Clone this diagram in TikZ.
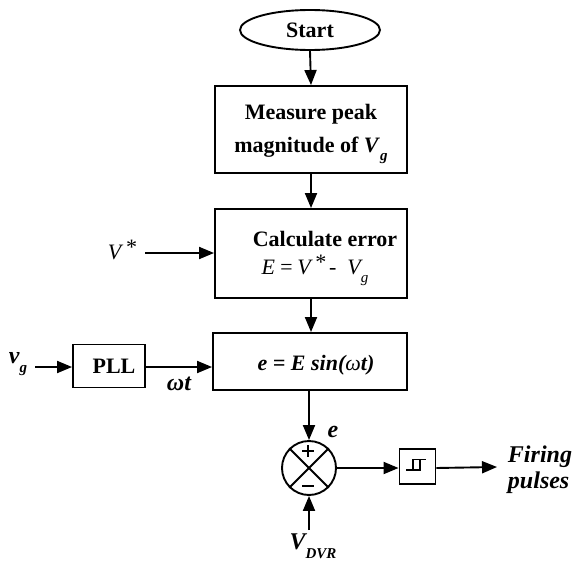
\documentclass[tikz,border=0pt]{standalone}
\usepackage{fontspec}
\setmainfont{Liberation Serif}
\usetikzlibrary{arrows.meta,shapes.geometric}
% subscript lowered below the baseline, in a smaller size
\newcommand\lowsub[1]{\raisebox{-0.38em}{\fontsize{15}{15}\selectfont #1}}
\begin{document}
\begin{tikzpicture}[x=1pt,y=-1pt,
  line width=1.9pt,
  flow/.style={-{Triangle[length=15pt,width=12pt]}},
  box/.style={draw, rectangle, inner sep=0pt},
  txt/.style={font=\fontsize{22}{33}\selectfont\bfseries, align=center, inner sep=0pt},
  mathtxt/.style={font=\fontsize{22}{26}\selectfont\itshape, inner sep=0pt},
  lbl/.style={font=\fontsize{24}{26}\selectfont\bfseries\itshape, align=left, inner sep=1pt}
]
\useasboundingbox (0,0) rectangle (576,562);

% start terminal
\node[ellipse, draw, minimum width=140pt, minimum height=40pt, inner sep=0pt,
      font=\fontsize{22}{26}\selectfont\bfseries] (start) at (310,30) {Start};

% measurement block
\node[box, minimum width=192pt, minimum height=87pt] (measure) at (311,129.5) {};
\node[txt] (measuretext) at (311,134) {Measure peak\\magnitude of \textit{V}\lowsub{\textit{g}}};

% error block
\node[box, minimum width=192pt, minimum height=89pt] (calc) at (311,253.5) {};
\node[txt, anchor=base] (calctext) at (325,246) {Calculate error};
\node[mathtxt, anchor=base] (calceq) at (315,274) {E\,=\,V\,\raisebox{0.2em}{*}\,-\ \ V\lowsub{g}};

% reference input
\node[mathtxt] (vref) at (122,250) {V\,\raisebox{0.2em}{*}};
\coordinate (vrefstart) at (145,253);

% reference waveform block
\node[box, minimum width=194pt, minimum height=57pt] (wave) at (310,361.5) {};
\node[font=\fontsize{22}{26}\selectfont\bfseries\itshape, inner sep=0pt] (wavetext) at (316,365) {e = E sin(\textmd{ω}t)};

% PLL
\node[box, minimum width=72pt, minimum height=43pt] (pll) at (109,366) {};
\node[txt] (plltext) at (114,366) {PLL};
\node[lbl] (vg) at (18,364) {v\lowsub{g}};
\coordinate (vgstart) at (35,367);
\node[lbl] (wt) at (179,384) {ωt};

% summing junction
\node[circle, draw, minimum size=54pt, inner sep=0pt] (sum) at (309,468) {};
\draw (sum.45) -- (sum.225);
\draw (sum.135) -- (sum.315);
\draw[line width=1.6pt] (302,451) -- (314,451) (308,445) -- (308,457);
\draw[line width=1.6pt] (302,486) -- (314,486);
\node[lbl] (elbl) at (333,432) {e};
\node[lbl, inner sep=0pt] (vdvr) at (313,546) {V\lowsub{DVR}};
\coordinate (vdvrstart) at (309,530);

% hysteresis comparator
\node[box, minimum width=36pt, minimum height=35pt] (hyst) at (417.5,466.5) {};
\draw[line width=1.4pt] (406,470) -- (420,470) -- (420,459.5) (413,470) -- (413,459.5) -- (426,459.5);
\coordinate (outend) at (497,467);
\node[lbl] (firing) at (540,470) {Firing\\pulses};

% connectors
\draw[flow] (start.south) -- (measure.north);
\draw[flow] (measure.south) -- (calc.north);
\draw[flow] (vrefstart) -- (calc.west |- vrefstart);
\draw[flow] (calc.south) -- (wave.north -| calc.south);
\draw[flow] (vgstart) -- (pll.west |- vgstart);
\draw[flow] (pll.east |- vgstart) -- (wave.west |- vgstart);
\draw[flow] (wave.south -| sum.north) -- (sum.north);
\draw[flow] (vdvrstart) -- (sum.south);
\draw[flow] (sum.east) -- (hyst.west |- sum.east);
\draw[flow] (hyst.east |- sum.east) -- (outend);
\end{tikzpicture}
\end{document}
